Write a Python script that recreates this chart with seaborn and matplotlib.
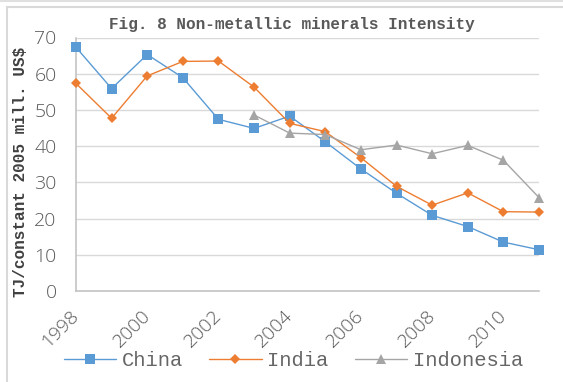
import numpy as np
import pandas as pd
import matplotlib
matplotlib.use("Agg")
import matplotlib.pyplot as plt
import seaborn as sns
from matplotlib.patches import Rectangle
from matplotlib.lines import Line2D
from matplotlib.transforms import ScaledTranslation

years = list(range(1998, 2012))
china = [67.3, 55.9, 65.3, 58.9, 47.4, 44.9, 48.3, 41.2, 33.7, 27.0, 20.9, 17.8, 13.5, 11.4]
india = [57.3, 47.7, 59.4, 63.4, 63.5, 56.3, 46.3, 44.0, 36.8, 28.9, 23.7, 27.1, 21.9, 21.8]
indonesia = [np.nan, np.nan, np.nan, np.nan, np.nan,
             48.6, 43.6, 43.2, 39.0, 40.3, 37.9, 40.2, 36.1, 25.8]
series_names = ["China", "India", "Indonesia"]
x_ticks = [1998, 2000, 2002, 2004, 2006, 2008, 2010]
y_ticks = [0, 10, 20, 30, 40, 50, 60, 70]
title = "Fig. 8 Non-metallic minerals Intensity"
ylabel = "TJ/constant 2005 mill. US$"

colors = {"China": "#5B9BD5", "India": "#ED7D31", "Indonesia": "#A5A5A5"}
markers = {"China": "s", "India": "D", "Indonesia": "^"}
msizes = {"China": 7.2, "India": 5.0, "Indonesia": 7.2}
leg_msizes = {"China": 6.5, "India": 4.6, "Indonesia": 6.5}

sns.set_theme(style="white")
plt.rcParams["font.family"] = ["DejaVu Sans"]

W, H = 563, 382
fig = plt.figure(figsize=(W / 100, H / 100), dpi=100)
ax = fig.add_axes([76 / W, 1 - 291 / H, (539 - 76) / W, (291 - 37.5) / H])

data = {"China": china, "India": india, "Indonesia": indonesia}
for name in series_names:
    df = pd.DataFrame({"Year": years, "Value": data[name]}).dropna()
    sns.lineplot(data=df, x="Year", y="Value", ax=ax, color=colors[name],
                 marker=markers[name], markersize=msizes[name],
                 markeredgewidth=0, linewidth=1.0, clip_on=False, zorder=3,
                 legend=False)

ax.set_xlim(1998, 2011)
ax.set_ylim(0, 70)
ax.set_xticks(x_ticks)
ax.set_yticks(y_ticks)
ax.set_xlabel("")
ax.set_ylabel("")
tick_font = dict(family="Open Sans", weight="light", size=14, color="#595959")
ax.set_yticklabels([str(v) for v in y_ticks], fontdict=tick_font)
ax.set_xticklabels([str(v) for v in x_ticks], fontdict=tick_font,
                   rotation=45, ha="right", va="top", rotation_mode="anchor")
ax.tick_params(axis="both", length=0)
ax.tick_params(axis="y", pad=14)
ax.tick_params(axis="x", pad=7)
shift = ScaledTranslation(-0.06, -0.06, fig.dpi_scale_trans)
for lbl in ax.get_xticklabels():
    lbl.set_transform(lbl.get_transform() + shift)

ax.grid(axis="y", color="#d9d9d9", linewidth=1.0)
ax.grid(axis="x", visible=False)
for s in ["top", "right"]:
    ax.spines[s].set_visible(False)
for s in ["left", "bottom"]:
    ax.spines[s].set_color("#bfbfbf")
    ax.spines[s].set_linewidth(1.1)
ax.set_axisbelow(True)

fig.text(292 / W, 1 - 25 / H, title, ha="center", va="center",
         family="Liberation Mono", weight="bold", size=11.5, color="#595959")
fig.text(21 / W, 1 - 172 / H, ylabel, ha="center", va="center", rotation=90,
         family="Liberation Mono", weight="bold", size=11.5, color="#404040")

handles = [Line2D([0], [0], color=colors[n], marker=markers[n],
                  markersize=leg_msizes[n], markeredgewidth=0, linewidth=1.0)
           for n in series_names]
fig.legend(handles, series_names, loc="center", bbox_to_anchor=(293.5 / W, 1 - 361 / H),
           ncol=3, frameon=False, handlelength=2.54, handletextpad=0.29,
           columnspacing=1.27, prop=dict(family="Liberation Mono", size=14.8),
           labelcolor="#666666", borderpad=0, borderaxespad=0)

fig.patches.append(Rectangle((7 / W, -0.1), 1.2, 1 - 7 / H + 0.1,
                             transform=fig.transFigure, fill=False,
                             edgecolor="#d9d9d9", linewidth=1.5))
fig.lines.append(Line2D([0, 1], [1 - 1 / H, 1 - 1 / H], transform=fig.transFigure,
                        color="#e0e0e0", linewidth=1.5))

fig.savefig("out.png", dpi=100)
